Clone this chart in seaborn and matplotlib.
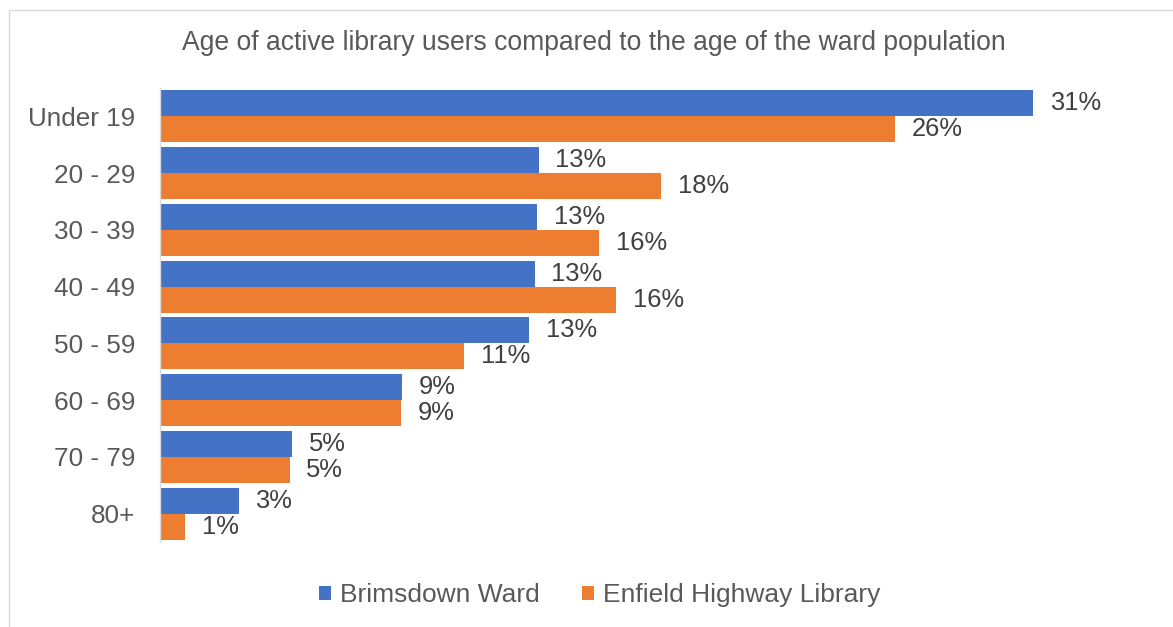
import matplotlib
matplotlib.use("Agg")
import matplotlib.pyplot as plt
from matplotlib.patches import Rectangle
import seaborn as sns
import pandas as pd

# Age bands and share of each group (percent)
age_bands = ["Under 19", "20 - 29", "30 - 39", "40 - 49", "50 - 59", "60 - 69", "70 - 79", "80+"]
brimsdown_ward = [31.0, 13.45, 13.4, 13.3, 13.1, 8.6, 4.7, 2.8]
enfield_highway_library = [26.1, 17.8, 15.6, 16.2, 10.8, 8.55, 4.6, 0.9]
series_names = ["Brimsdown Ward", "Enfield Highway Library"]

df = pd.DataFrame({
    "age": age_bands * 2,
    "share": brimsdown_ward + enfield_highway_library,
    "series": [series_names[0]] * len(age_bands) + [series_names[1]] * len(age_bands),
})

sns.set_theme(style="white")
plt.rcParams["font.family"] = ["Liberation Sans", "DejaVu Sans"]

W, H = 1173, 627
fig = plt.figure(figsize=(W / 100, H / 100), dpi=100)
ax = fig.add_axes([160 / W, (H - 542) / H, (1120 - 160) / W, (542 - 88) / H])

palette = {series_names[0]: "#4472C4", series_names[1]: "#ED7D31"}
sns.barplot(data=df, y="age", x="share", hue="series", order=age_bands,
            hue_order=series_names, palette=palette, orient="h",
            width=0.92, gap=0, saturation=1, edgecolor="none", ax=ax)

ax.set_xlim(0, 960 / 28.16)
ax.set_ylim(len(age_bands) - 0.5, -0.5)
ax.set_xlabel("")
ax.set_ylabel("")
ax.set_xticks([])
ax.tick_params(axis="y", length=0, pad=18, labelsize=18.8, labelcolor="#595959")
for side in ["top", "right", "bottom"]:
    ax.spines[side].set_visible(False)
ax.spines["left"].set_color("#D9D9D9")
ax.spines["left"].set_linewidth(1)

for container in ax.containers:
    ax.bar_label(container, labels=[f"{v:.0f}%" for v in container.datavalues],
                 padding=12, fontsize=18.4, color="#404040")

handles, labels = ax.get_legend_handles_labels()
ax.legend_.remove()
fig.legend(handles, labels, loc="center", bbox_to_anchor=(600 / W, (H - 595) / H),
           ncol=2, frameon=False, fontsize=19, labelcolor="#595959",
           handlelength=0.45, handleheight=0.45, handletextpad=0.35, columnspacing=1.6)

fig.suptitle("Age of active library users compared to the age of the ward population",
             x=594 / W, y=(H - 43) / H, va="center", fontsize=19.1, color="#595959")

# Chart frame
fig.patches.append(Rectangle((9 / W, -0.1), 1.2, (H - 10) / H + 0.1,
                             transform=fig.transFigure, fill=False,
                             edgecolor="#D9D9D9", linewidth=1))

fig.savefig("out.png", dpi=100)
